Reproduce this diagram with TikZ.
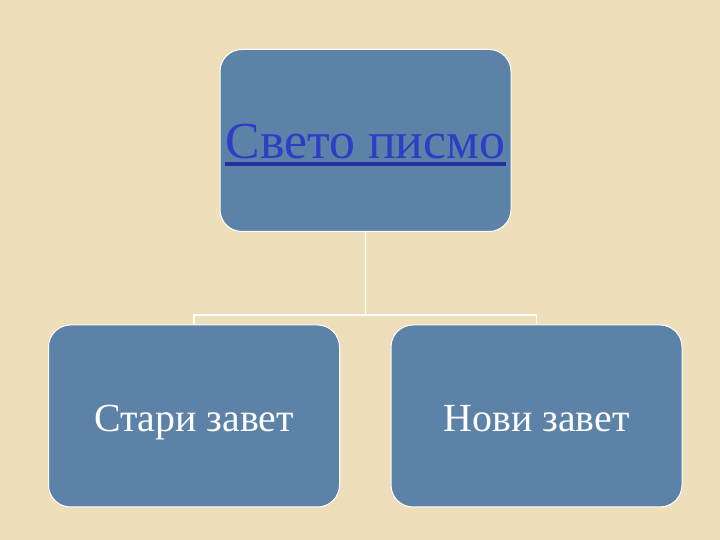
\documentclass[tikz,border=0pt]{standalone}
\usepackage{fontspec}
\setmainfont{Liberation Serif}
\definecolor{parchment}{HTML}{EFDEBA}
\definecolor{slate}{HTML}{5D82A8}
\definecolor{linkblue}{HTML}{2E3CC6}
\begin{document}
\begin{tikzpicture}[x=1bp,y=1bp,line join=bevel,
  box/.style={draw=white,line width=1bp,fill=slate,rounded corners=22bp,
    minimum width=291bp,minimum height=182bp,inner sep=0pt},
  label/.style={text=white,font=\fontsize{40}{44}\selectfont,text height=32bp,text depth=0bp},
  link/.style={draw=white,line width=1.5bp}]
%%
\fill[parchment] (0,0) rectangle (720,540);
\useasboundingbox (0,0) rectangle (720,540);
\node (node_top) at (365.5bp,399.5bp) [box] {};
  \node (node_top_txt) at (365.5bp,381bp) [anchor=base,inner sep=0pt,text=linkblue,font=\fontsize{52}{56}\selectfont] {Свето писмо};
  \draw [linkblue!80!black,line width=3.2bp] ([yshift=-5bp]node_top_txt.base west) -- ([yshift=-5bp]node_top_txt.base east);
  \node (node_old) at (194bp,124bp) [box,label] {Стари завет};
  \node (node_new) at (536.5bp,124bp) [box,label] {Нови завет};
  \coordinate (fork) at (365.5bp,225bp);
  \draw [link] (node_top.south) -- (fork);
  \draw [link] (node_old.north) |- (fork) -| (node_new.north);
%
\end{tikzpicture}
\end{document}
